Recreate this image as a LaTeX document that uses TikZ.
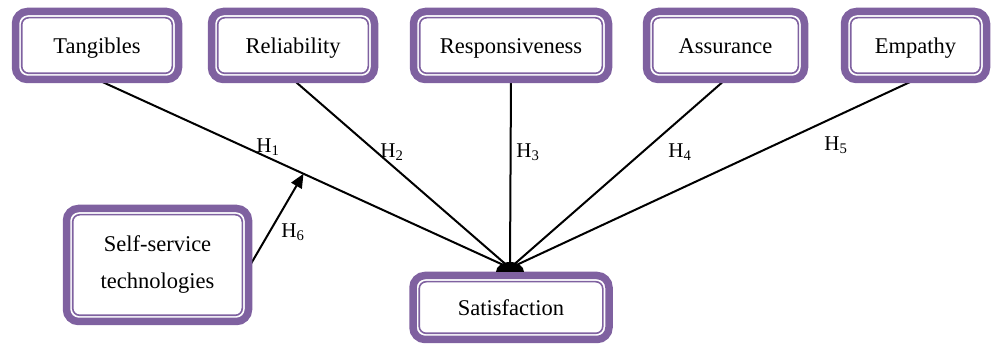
\documentclass[tikz,border=0pt]{standalone}
\usepackage{fontspec}
\setmainfont{Liberation Serif}
\usetikzlibrary{arrows.meta,backgrounds,calc}
\definecolor{pur}{RGB}{127,97,160}
\begin{document}
\begin{tikzpicture}[x=1pt,y=-1pt,
  box/.style={draw=pur, line width=7.5pt, rounded corners=12pt, fill=white,
    outer sep=0pt, inner sep=0pt, align=center,
    font=\fontsize{22.5}{37}\selectfont},
  oneline/.style={text height=22pt, text depth=5pt},
  conn/.style={black, line width=2pt},
  hlab/.style={font=\fontsize{21}{24}\selectfont, inner sep=0pt}]
\useasboundingbox (0,0) rectangle (997,344);
\node[box, oneline, minimum width=163pt, minimum height=68pt] (t) at (97,45.5) {Tangibles};
\node[box, oneline, minimum width=163pt, minimum height=68pt] (r) at (293,45.5) {Reliability};
\node[box, oneline, minimum width=195pt, minimum height=68pt] (p) at (511,45.5) {Responsiveness};
\node[box, oneline, minimum width=158pt, minimum height=68pt] (a) at (725.5,45.5) {Assurance};
\node[box, oneline, minimum width=142pt, minimum height=68pt] (e) at (915.5,45.5) {Empathy};
\node[box, minimum width=182pt, minimum height=113pt] (sst) at (157.5,265) {\raisebox{-3pt}{\parbox{170pt}{\centering Self-service\\technologies}}};
\node[box, oneline, minimum width=196pt, minimum height=64pt] (s) at (511,307.5) {Satisfaction};
\foreach \n in {t,r,p,a,e,sst,s}
  \draw[pur, line width=1.6pt, rounded corners=7pt]
    ([shift={(6.2pt,-6.2pt)}]\n.north west) rectangle ([shift={(-6.2pt,6.2pt)}]\n.south east);
\coordinate (conv) at (510,268);
\coordinate (h6end) at ($(t.south)!0.5!(conv)$);
\begin{scope}[on background layer]
  \draw[conn] (t.south) -- (conv);
  \draw[conn] (r.south) -- (conv);
  \draw[conn] (p.south) -- (conv);
  \draw[conn] (a.south) -- (conv);
  \draw[conn] (e.south) -- (conv);
  \draw[conn, -{Triangle[length=14pt,width=12pt]}] ([yshift=-3pt]sst.east) -- (h6end);
\end{scope}
\fill[black] (496,272) arc[start angle=180, end angle=0, x radius=14pt, y radius=10pt] -- cycle;
\node[hlab] (h1) at (268,147) {H\textsubscript{1}};
\node[hlab] (h2) at (392,152) {H\textsubscript{2}};
\node[hlab] (h3) at (528,152) {H\textsubscript{3}};
\node[hlab] (h4) at (680,152) {H\textsubscript{4}};
\node[hlab] (h5) at (836,145) {H\textsubscript{5}};
\node[hlab] (h6) at (293,232) {H\textsubscript{6}};
\end{tikzpicture}
\end{document}
